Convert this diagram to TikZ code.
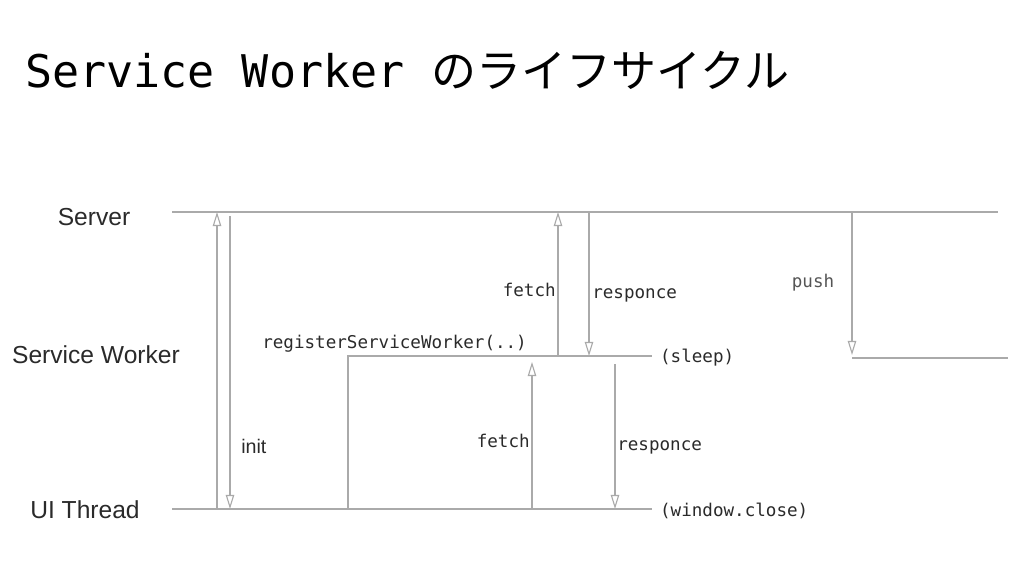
\documentclass[tikz,border=0pt]{standalone}
\usepackage{fontspec}
\setmainfont{Liberation Sans}
\setmonofont{DejaVu Sans Mono}
\newfontfamily\cjk{Noto Sans CJK JP}
\usepackage{xcolor}
\usetikzlibrary{arrows.meta,positioning}
\definecolor{linegray}{HTML}{AAAAAA}
\definecolor{textdark}{HTML}{2A2A2A}
\definecolor{textgray}{HTML}{555555}

\tikzset{
  lane/.style={draw=linegray, line width=0.8pt},
  msg/.style={draw=linegray, line width=0.8pt, -{Triangle[open,length=10pt,width=6pt]}},
  lanelabel/.style={text=textdark, inner sep=0pt, font=\fontsize{17.5}{20}\selectfont},
  code/.style={text=textdark, inner sep=0pt, font=\ttfamily\fontsize{12.5}{15}\selectfont},
  state/.style={code, inner xsep=8pt*0.7},
}

\begin{document}
\begin{tikzpicture}[x=0.025cm,y=-0.025cm]
  \useasboundingbox (0,0) rectangle (1024,576);

  % title
  \node[anchor=base west, inner sep=0pt, text=black] (title) at (25,88)
    {\fontsize{32}{36}\selectfont\ttfamily Service Worker \cjk のライフサイクル};

  % lanes
  \node[lanelabel] (server) at (94,217) {Server};
  \node[lanelabel] (worker) at (96,355) {Service Worker};
  \node[lanelabel] (ui) at (85,510) {UI Thread};

  \coordinate (srvL) at (172,212);
  \coordinate (srvR) at (998,212);
  \coordinate (uiL) at (172,509);
  \coordinate (swL) at (348,356);
  \coordinate (swB) at (348,509);
  \coordinate (pushL) at (852,358);
  \coordinate (pushR) at (1008,358);

  \node[state, anchor=west] (sleep) at (652,358) {(sleep)};
  \node[state, anchor=west] (close) at (652,511) {(window.close)};

  \draw[lane] (srvL) -- (srvR);
  \draw[lane] (uiL) -- (uiL -| close.west);
  \draw[lane] (swB) -- (swL) -- (swL -| sleep.west);
  \draw[lane] (pushL) -- (pushR);

  % init
  \coordinate (initU0) at (217,509);
  \coordinate (initU1) at (217,212);
  \coordinate (initD0) at (230,216);
  \coordinate (initD1) at (230,509);
  \draw[msg] (initU0) -- (initU1);
  \draw[msg] (initD0) -- (initD1);
  \node[text=textdark, inner sep=0pt, font=\fontsize{14}{16}\selectfont, anchor=west] (init) at (241,446) {init};

  % register
  \node[code, anchor=base west] (register) at (262,349) {registerServiceWorker(..)};

  % worker <-> server
  \coordinate (fetchS0) at (558,356);
  \coordinate (fetchS1) at (558,212);
  \coordinate (respS0) at (589,212);
  \coordinate (respS1) at (589,356);
  \draw[msg] (fetchS0) -- (fetchS1);
  \draw[msg] (respS0) -- (respS1);
  \node[code, anchor=mid east] (fetchs) at (556,293) {fetch};
  \node[code, anchor=mid west] (resps) at (592,295) {responce};

  % ui <-> worker
  \coordinate (fetchW0) at (532,509);
  \coordinate (fetchW1) at (532,362);
  \coordinate (respW0) at (615,364);
  \coordinate (respW1) at (615,509);
  \draw[msg] (fetchW0) -- (fetchW1);
  \draw[msg] (respW0) -- (respW1);
  \node[code, anchor=mid east] (fetchw) at (530,444) {fetch};
  \node[code, anchor=mid west] (respw) at (617,447) {responce};

  % push
  \coordinate (push0) at (852,212);
  \coordinate (push1) at (852,355);
  \draw[msg] (push0) -- (push1);
  \node[code, text=textgray, anchor=mid] (push) at (813,284) {push};
\end{tikzpicture}
\end{document}
